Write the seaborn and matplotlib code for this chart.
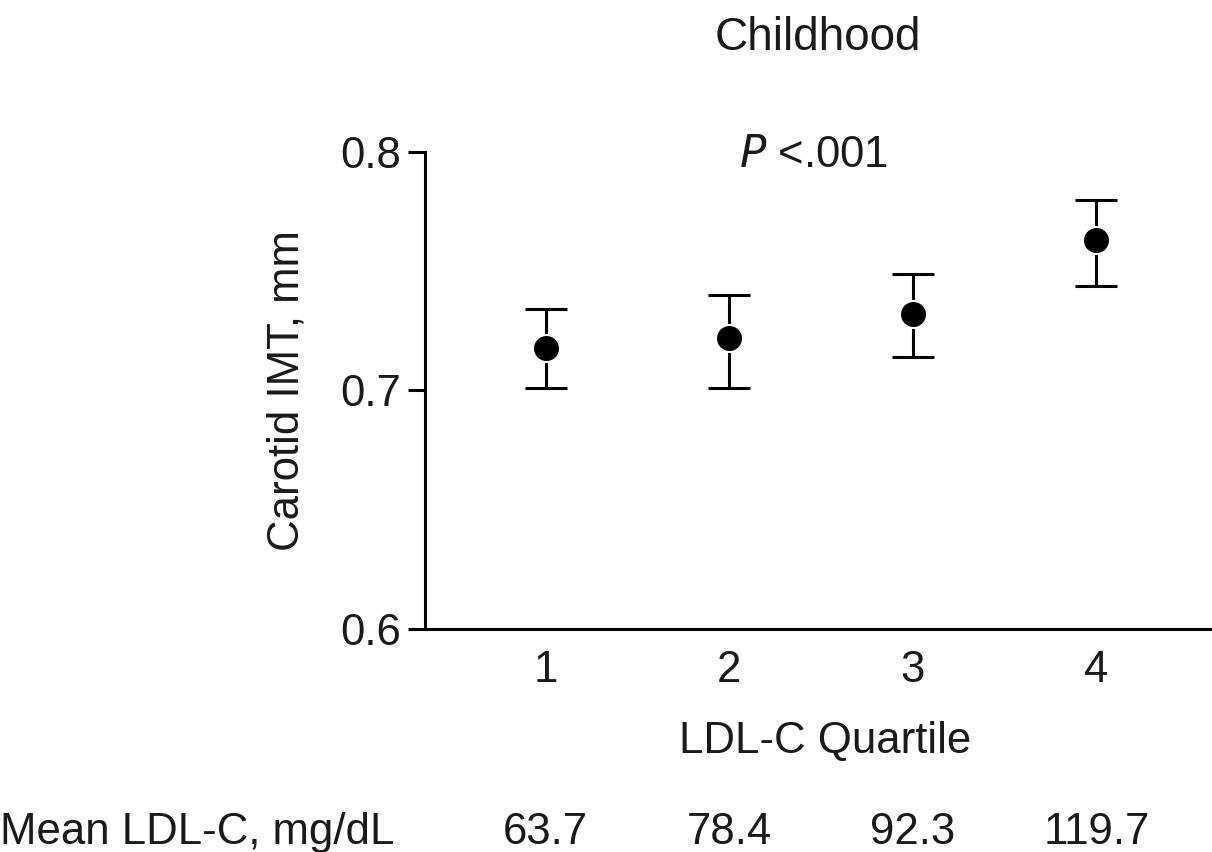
import matplotlib
matplotlib.use("Agg")
import matplotlib.pyplot as plt
import seaborn as sns
import pandas as pd

# Carotid IMT by childhood LDL-C quartile
quartiles = [1, 2, 3, 4]
imt_mean = [0.718, 0.722, 0.732, 0.763]
imt_lower = [0.701, 0.701, 0.714, 0.744]
imt_upper = [0.734, 0.740, 0.749, 0.780]
mean_ldl = ["63.7", "78.4", "92.3", "119.7"]

sns.set_theme(style="ticks")
plt.rcParams["font.family"] = ["Liberation Sans", "DejaVu Sans"]
ink = "#1a1a1a"
fs = 31.5

fig = plt.figure(figsize=(12.12, 8.52), dpi=100)
ax = fig.add_axes([0.3507, 0.2617, 0.66, 0.56])

df = pd.DataFrame({"q": quartiles, "imt": imt_mean})
yerr = [[m - lo for m, lo in zip(imt_mean, imt_lower)],
        [hi - m for m, hi in zip(imt_mean, imt_upper)]]
ax.errorbar(df["q"], df["imt"], yerr=yerr, fmt="none", ecolor="black",
            elinewidth=2.2, capsize=15, capthick=2.2, zorder=2)
sns.scatterplot(data=df, x="q", y="imt", ax=ax, s=380, color="black",
                edgecolor="white", linewidth=1.5, zorder=3, legend=False)

ax.set_xlim(0.344, 4.7)
ax.set_ylim(0.6, 0.8)
ax.set_yticks([0.6, 0.7, 0.8])
ax.set_yticklabels(["0.6", "0.7", "0.8"])
ax.set_xticks(quartiles)
ax.set_xticklabels([str(q) for q in quartiles])
ax.tick_params(axis="y", length=12, width=2.2, colors="black", labelcolor=ink,
               labelsize=fs, pad=5)
ax.tick_params(axis="x", length=0, labelcolor=ink, labelsize=fs, pad=15)
for side in ("top", "right"):
    ax.spines[side].set_visible(False)
for side in ("left", "bottom"):
    ax.spines[side].set_linewidth(2.2)
    ax.spines[side].set_color("black")

ax.set_xlabel("LDL-C Quartile", fontsize=fs, color=ink, labelpad=22)
ax.set_ylabel("Carotid IMT, mm", fontsize=fs, color=ink, labelpad=24)

fig.text(0.675, 0.955, "Childhood", ha="center", va="center",
         fontsize=33, color=ink)
fig.text(0.671, 0.818, r"$\it{P}$ <.001", ha="center", va="center",
         fontsize=fs, color=ink)

fig.text(0.0, 0.023, "Mean LDL-C, mg/dL", ha="left", va="center",
         fontsize=fs, color=ink)
for q, val in zip(quartiles, mean_ldl):
    xf = fig.transFigure.inverted().transform(ax.transData.transform((q, 0.6)))[0]
    fig.text(xf, 0.023, val, ha="center", va="center", fontsize=fs, color=ink)

sns.despine(ax=ax)
fig.savefig("out.png", dpi=100, facecolor="white")
